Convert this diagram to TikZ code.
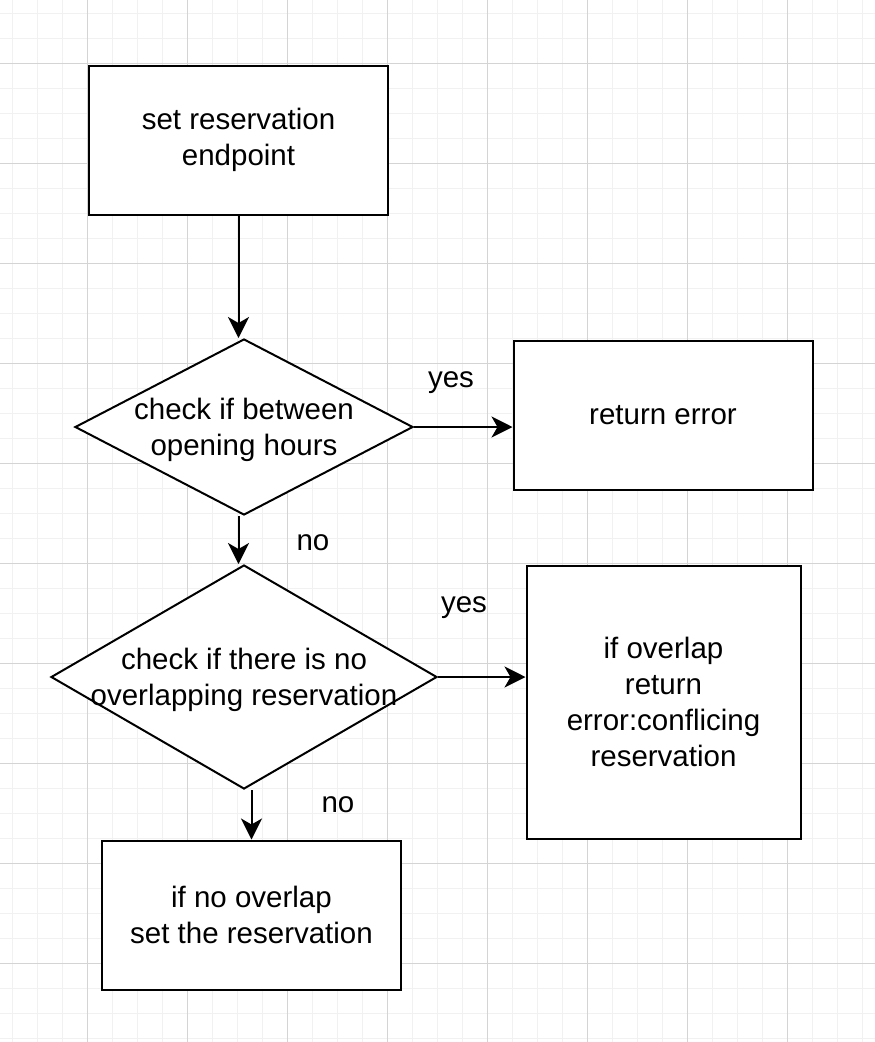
\documentclass[tikz,border=0pt]{standalone}
\usepackage{fontspec}
\setmainfont{Liberation Sans}
\usepackage{tikz}
\usetikzlibrary{shapes.geometric,arrows.meta}
\definecolor{gridminor}{HTML}{F1F1F1}
\definecolor{gridmajor}{HTML}{D4D4D4}
\newcommand{\flowfont}{\fontsize{29.5}{36}\selectfont}

\begin{document}
\begin{tikzpicture}[x=1pt,y=-1pt,
    minorgrid/.style={gridminor,line width=1pt},
    majorgrid/.style={gridmajor,line width=1pt},
    flowbox/.style={draw,line width=2pt,fill=white,align=center,font=\flowfont,
      minimum width=299,minimum height=149,inner sep=0pt},
    decision/.style={draw,diamond,line width=2pt,fill=white,inner sep=0pt},
    flowtext/.style={align=center,font=\flowfont,inner sep=0pt,yshift=-3pt},
    answer/.style={font=\flowfont,anchor=base,inner sep=0pt},
    flowarrow/.style={line width=2pt,-{Stealth[length=21pt,width=21pt,inset=6pt]}}]
  \useasboundingbox[fill=white] (0,0) rectangle (875,1042);
  % background grid
  \foreach \x in {12,37,...,862}{
    \draw[minorgrid] (\x,0) -- (\x,1042);  }
  \foreach \y in {13,38,...,1038}{
    \draw[minorgrid] (0,\y) -- (875,\y);  }
  \foreach \x in {87,187,...,787}{
    \draw[majorgrid] (\x,0) -- (\x,1042);  }
  \foreach \y in {63,163,...,963}{
    \draw[majorgrid] (0,\y) -- (875,\y);  }
  % boxes and decisions
  \node[flowbox] (start) at (238.5,140) {set reservation\\endpoint};
  \node[decision,minimum width=338,minimum height=176] (chk1) at (244,427) {};
  \node[flowtext] (chk1txt) at (chk1) {check if between\\opening hours};
  \node[flowbox] (err) at (663,415) {return error};
  \node[decision,minimum width=386,minimum height=224] (chk2) at (244,677) {};
  \node[flowtext] (chk2txt) at (chk2) {check if there is no\\overlapping reservation};
  \node[flowbox,minimum width=274,minimum height=273] (conflict) at (663.5,702)
    {if overlap\\return\\error:conflicing\\reservation};
  \node[flowbox] (done) at (251.5,915) {if no overlap\\set the reservation};
  % connectors
  \draw[flowarrow] (start.south) -- (start.south |- chk1.north);
  \draw[flowarrow] (chk1.south -| start.south) -- (chk2.north -| start.south);
  \draw[flowarrow] (chk1.east) -- (err.west |- chk1.east);
  \draw[flowarrow] (chk2.east) -- (conflict.west |- chk2.east);
  \draw[flowarrow] (chk2.south -| done.north) -- (done.north);
  % answers
  \node[answer] (yes1) at (451,387) {yes};
  \node[answer] (no1) at (313,550) {no};
  \node[answer] (yes2) at (464,612) {yes};
  \node[answer] (no2) at (338,812) {no};
\end{tikzpicture}
\end{document}
